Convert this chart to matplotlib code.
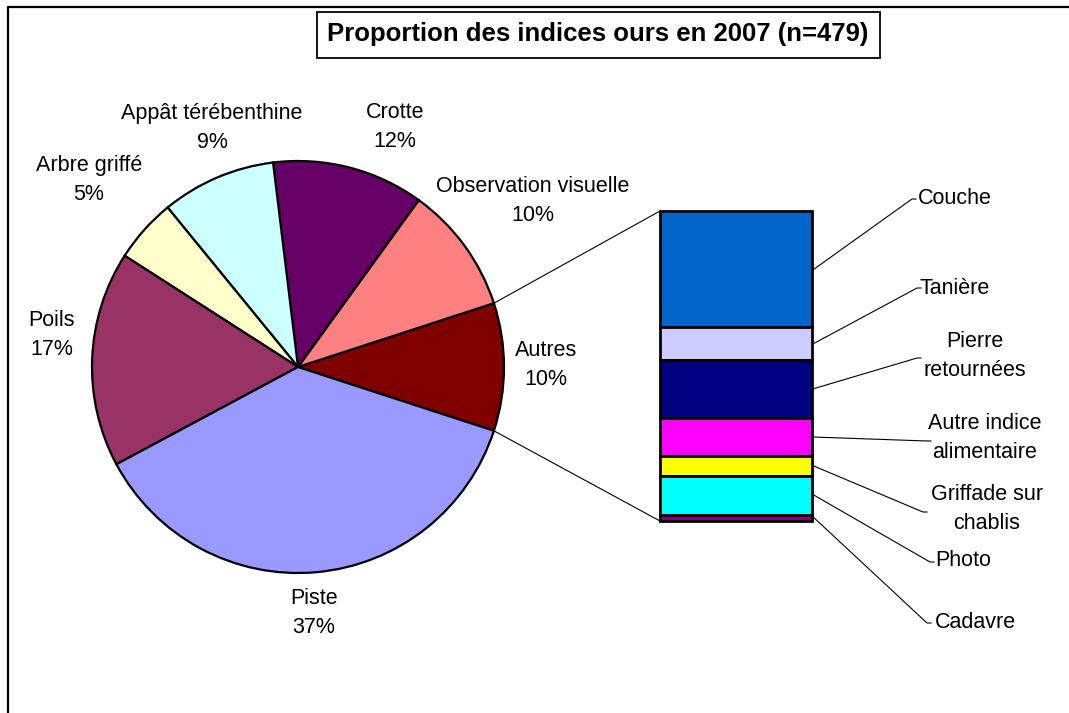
import matplotlib
matplotlib.use("Agg")
import matplotlib.pyplot as plt
from matplotlib.patches import Rectangle
import numpy as np

plt.rcParams['font.family'] = ['Liberation Sans', 'DejaVu Sans']

# pie data (n=479)
pie_names = ["Autres", "Observation visuelle", "Crotte", "Appât térébenthine",
             "Arbre griffé", "Poils", "Piste"]
pie_counts = [48, 48, 57, 43, 24, 81, 178]
pie_colors = ["#800000", "#FF8080", "#660066", "#CCFFFF", "#FFFFCC", "#993366", "#9999FF"]

# breakdown of "Autres" (top to bottom)
bar_names = ["Couche", "Tanière", "Pierre\nretournées", "Autre indice\nalimentaire",
             "Griffade sur\nchablis", "Photo", "Cadavre"]
bar_counts = [18, 5, 9, 6, 3, 6, 1]
bar_colors = ["#0066CC", "#CCCCFF", "#000080", "#FF00FF", "#FFFF00", "#00FFFF", "#800080"]

W, H = 1069, 713
fig = plt.figure(figsize=(W / 100, H / 100), dpi=100)
ax = fig.add_axes([0, 0, 1, 1])

# pie, axis is in pixel units with y pointing down
cx, cy, r = 298, 367, 206
total = sum(pie_counts)
start = 360 * pie_counts[0] / total / 2
wedges, _ = ax.pie(pie_counts, colors=pie_colors, center=(cx, cy), radius=r,
                   startangle=start, counterclock=False,
                   wedgeprops=dict(edgecolor="black", linewidth=1.6))

ax.set_xlim(0, W)
ax.set_ylim(H, 0)
ax.set_aspect("equal")
ax.axis("off")

fs = 15.5
ls = 1.55

# pie labels
label_pos = [(546, 365), (533, 201), (395, 127), (212, 128), (89, 180), (52, 335), (314, 613)]
for name, c, (x, y) in zip(pie_names, pie_counts, label_pos):
    ax.text(x, y, f"{name}\n{100 * c / total:.0f}%", ha="center", va="center",
            fontsize=fs, linespacing=ls)

# stacked bar for "Autres"
bx0, bx1, btop, bbot = 660, 812, 211, 521
scale = (bbot - btop) / sum(bar_counts)
heights = np.array(bar_counts) * scale
bottoms = btop + np.concatenate([[0], np.cumsum(heights)[:-1]])
ax.bar([(bx0 + bx1) / 2] * len(bar_counts), heights, width=bx1 - bx0, bottom=bottoms,
       color=bar_colors, edgecolor="black", linewidth=2)

# connector lines pie -> bar
w0 = wedges[0]
for ang, yb in [(w0.theta1, btop), (w0.theta2, bbot)]:
    px = cx + r * np.cos(np.radians(ang))
    py = cy + r * np.sin(np.radians(ang))
    ax.plot([px, bx0], [py, yb], color="black", lw=0.8)

# bar labels with leader lines
ends = [(912, 199), (917, 288), (917, 358), (927, 441), (923, 512), (930, 562), (927, 623)]
text_pos = [(918, 198, "left"), (920, 288, "left"), (975, 356, "center"),
            (985, 438, "center"), (987, 509, "center"), (935, 560, "left"), (935, 622, "left")]
for name, b, h, (ex, ey), (tx, ty, ha) in zip(bar_names, bottoms, heights, ends, text_pos):
    ax.plot([bx1 + 2, ex, ex + 4], [b + h / 2, ey, ey], color="black", lw=0.8)
    ax.text(tx, ty, name, ha=ha, va="center", fontsize=fs, linespacing=ls,
            multialignment="center")

# title
ax.add_patch(Rectangle((317, 12), 563, 46, fc="white", ec="black", lw=1.3))
ax.text(598, 34, "Proportion des indices ours en 2007 (n=479)", ha="center", va="center",
        fontsize=18.5, fontweight="bold")

# chart frame
ax.plot([8, 8, W + 5], [H + 5, 7, 7], color="black", lw=1.6, clip_on=False)

fig.savefig("out.png", dpi=100)
